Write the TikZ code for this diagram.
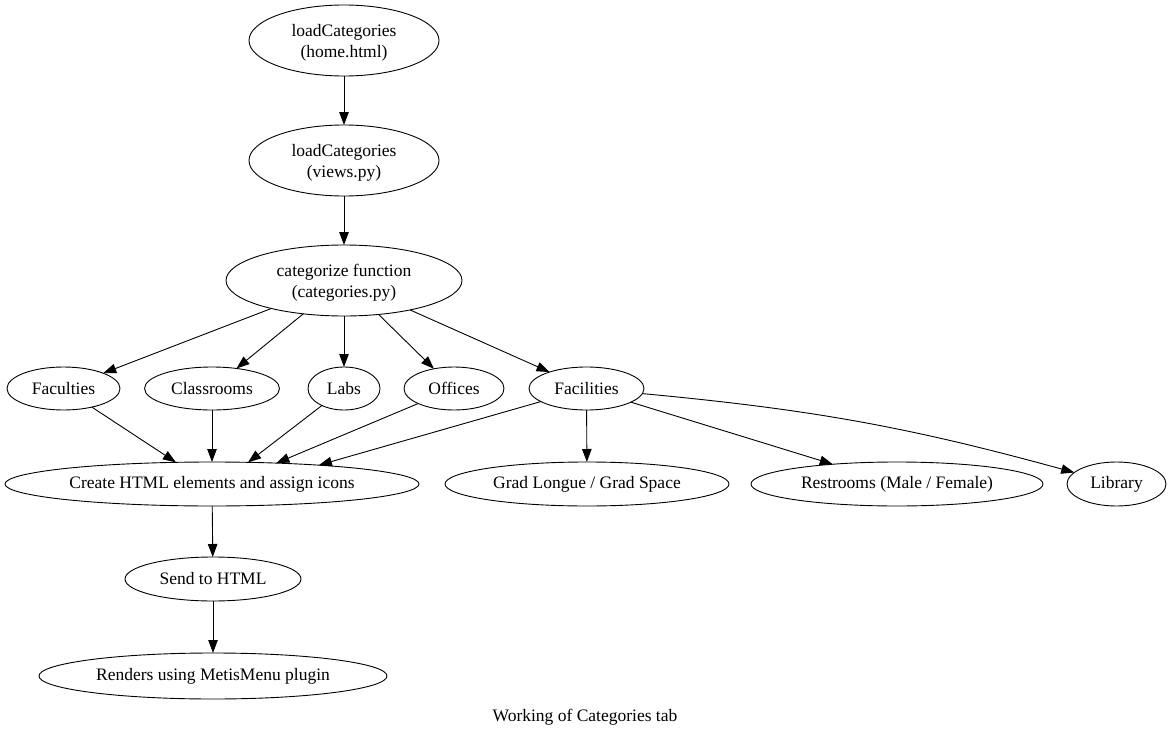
\documentclass[tikz,border=0pt]{standalone}
\usepackage{fontspec}
\setmainfont{Liberation Serif}
\usetikzlibrary{shapes.geometric,arrows.meta}
\begin{document}
\begin{tikzpicture}[x=1pt,y=1pt,
  nd/.style={draw,ellipse,inner sep=0pt,outer sep=0pt,line width=0.9pt,font=\fontsize{17.5}{21}\selectfont,align=center},
  two/.style={text depth=0pt},
  arr/.style={line width=0.9pt,-{Triangle[length=13pt,width=9.5pt]}}]
\useasboundingbox (0,0) rectangle (1171,-736);
\node[nd,two,minimum width=190,minimum height=71] (home) at (344,-40.5) {loadCategories\\(home.html)};
\node[nd,two,minimum width=190,minimum height=71] (views) at (344,-160.5) {loadCategories\\(views.py)};
\node[nd,two,minimum width=236,minimum height=71] (cat) at (344,-280.5) {categorize function\\(categories.py)};
\node[nd,minimum width=113,minimum height=43] (fac) at (63.5,-388.5) {Faculties};
\node[nd,minimum width=135,minimum height=43] (cls) at (212,-388.5) {Classrooms};
\node[nd,minimum width=72,minimum height=43] (labs) at (344,-388.5) {Labs};
\node[nd,minimum width=100,minimum height=43] (off) at (454,-388.5) {Offices};
\node[nd,minimum width=115,minimum height=43] (facil) at (586.5,-388.5) {Facilities};
\node[nd,minimum width=414,minimum height=44] (create) at (212,-484) {Create HTML elements and assign icons};
\node[nd,minimum width=284,minimum height=44] (grad) at (587,-484) {Grad Longue / Grad Space};
\node[nd,minimum width=292,minimum height=44] (rest) at (897,-484) {Restrooms (Male / Female)};
\node[nd,minimum width=99,minimum height=44] (lib) at (1116.5,-484) {Library};
\node[nd,minimum width=176,minimum height=44] (send) at (213,-579) {Send to HTML};
\node[nd,minimum width=348,minimum height=46] (render) at (213,-676) {Renders using MetisMenu plugin};
\node[font=\fontsize{17.5}{21}\selectfont] (caption) at (585,-717.5) {Working of Categories tab};
\draw[arr] (home) -- (views);
\draw[arr] (views) -- (cat);
\draw[arr] (cat) -- (fac);
\draw[arr] (cat) -- (cls);
\draw[arr] (cat) -- (labs);
\draw[arr] (cat) -- (off);
\draw[arr] (cat) -- (facil);
\draw[arr] (fac) -- (create.149.7);
\draw[arr] (cls) -- (create.90);
\draw[arr] (labs) -- (create.31.8);
\draw[arr] (off) -- (create.18.4);
\draw[arr] (facil) -- (create.10.5);
\draw[arr] (facil) -- (grad);
\draw[arr] (facil) -- (rest);
\draw[arr] (facil) to[bend left=5] (lib);
\draw[arr] (create) -- (send);
\draw[arr] (send) -- (render);
\end{tikzpicture}
\end{document}
